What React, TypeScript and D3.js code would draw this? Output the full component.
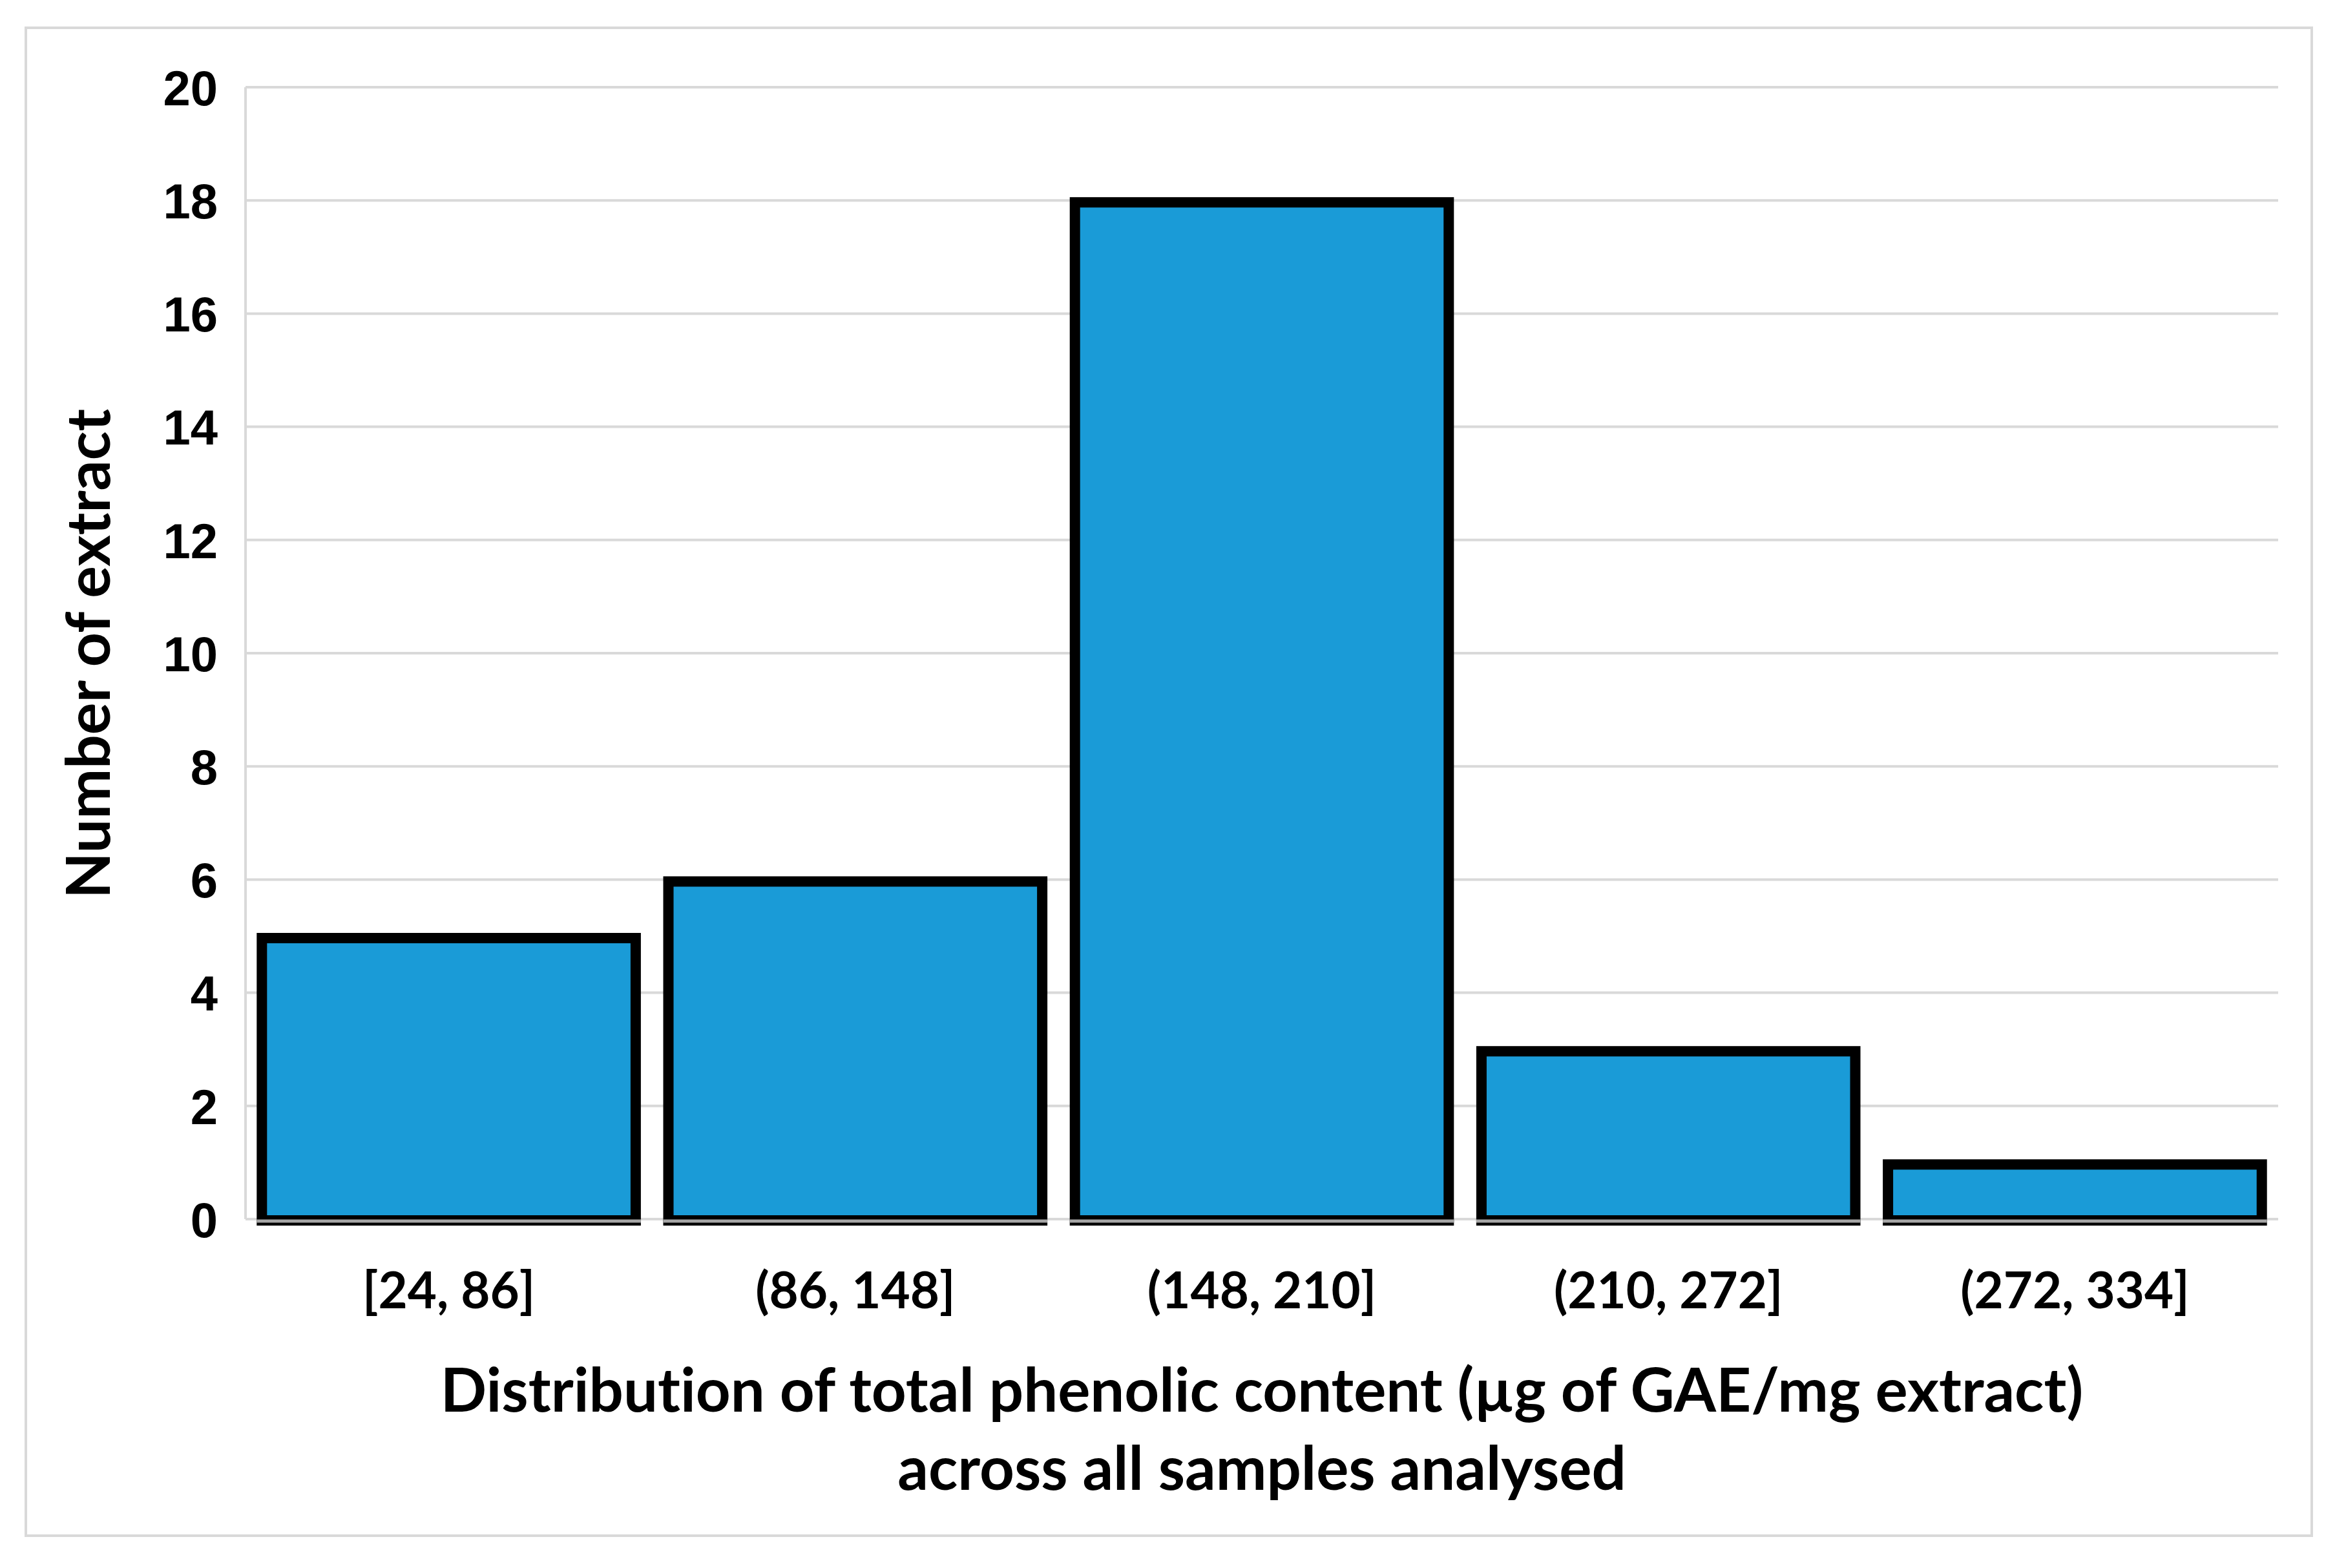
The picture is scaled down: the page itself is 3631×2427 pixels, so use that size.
import React, { useEffect, useRef } from 'react';
import * as d3 from 'd3';

const categories = ['[24, 86]', '(86, 148]', '(148, 210]', '(210, 272]', '(272, 334]'];
const counts = [5, 6, 18, 3, 1];
const yTicks = [0, 2, 4, 6, 8, 10, 12, 14, 16, 18, 20];
const yTitle = 'Number of extract';
const xTitle = ['Distribution of total phenolic content (µg of GAE/mg extract)', 'across all samples analysed'];

const App: React.FC = () => {
  const ref = useRef<SVGSVGElement>(null);

  useEffect(() => {
    const W = 3631;
    const H = 2427;
    const margin = { top: 135, right: 105, bottom: 540, left: 380 };
    const width = W - margin.left - margin.right;
    const height = H - margin.top - margin.bottom;

    const root = d3.select(ref.current).attr('width', W).attr('height', H);
    root.selectAll('*').remove();

    root.append('rect').attr('width', W).attr('height', H).attr('fill', '#fff');

    // outer chart border
    root.append('rect')
      .attr('x', 40).attr('y', 43)
      .attr('width', 3538).attr('height', 2334)
      .attr('fill', 'none')
      .attr('stroke', '#d9d9d9')
      .attr('stroke-width', 4);

    const svg = root.append('g')
      .attr('transform', `translate(${margin.left},${margin.top})`);

    const x = d3.scaleBand()
      .domain(categories)
      .range([0, width])
      .paddingInner(0.055)
      .paddingOuter(0.0275);

    const y = d3.scaleLinear()
      .domain([0, 20])
      .range([height, 0]);

    // gridlines
    svg.append('g')
      .selectAll('line')
      .data(yTicks)
      .join('line')
      .attr('x1', 0).attr('x2', width)
      .attr('y1', d => y(d)).attr('y2', d => y(d))
      .attr('stroke', '#d9d9d9')
      .attr('stroke-width', 4);

    // left axis line
    svg.append('line')
      .attr('x1', 0).attr('x2', 0)
      .attr('y1', 0).attr('y2', height)
      .attr('stroke', '#d9d9d9')
      .attr('stroke-width', 4);

    // y axis labels
    const yAxis = svg.append('g')
      .attr('transform', 'translate(-43,0)')
      .call(d3.axisLeft(y).tickValues(yTicks).tickSize(0).tickPadding(0));
    yAxis.select('.domain').remove();
    yAxis.selectAll('text')
      .attr('dy', '0.36em')
      .style('font-family', '"Liberation Sans", Arial, sans-serif')
      .style('font-weight', 700)
      .style('font-size', '76px')
      .style('fill', '#000');

    const sw = 16;
    // bars
    svg.append('g')
      .selectAll('rect')
      .data(counts)
      .join('rect')
      .attr('x', (d, i) => x(categories[i])! + sw / 2)
      .attr('y', d => y(d) + 3)
      .attr('width', x.bandwidth() - sw)
      .attr('height', d => y(0) - y(d) - 1)
      .attr('fill', '#1a9bd7')
      .attr('stroke', '#000')
      .attr('stroke-width', sw);

    // horizontal axis line over the bar bottoms
    svg.append('g')
      .selectAll('line')
      .data(categories)
      .join('line')
      .attr('x1', d => x(d)!)
      .attr('x2', d => x(d)! + x.bandwidth())
      .attr('y1', y(0) + 3).attr('y2', y(0) + 3)
      .attr('stroke', '#a6a6a6')
      .attr('stroke-width', 5);

    // x axis labels
    const xAxis = svg.append('g')
      .attr('transform', `translate(0,${height})`)
      .call(d3.axisBottom(x).tickSize(0).tickPadding(0));
    xAxis.select('.domain').remove();
    xAxis.selectAll('text')
      .attr('dy', null)
      .attr('y', 138)
      .style('font-family', 'Lato, sans-serif')
      .style('font-weight', 700)
      .style('font-size', '78px')
      .style('fill', '#000');

    // axis titles
    root.append('text')
      .attr('transform', `translate(170,1012) rotate(-90)`)
      .attr('text-anchor', 'middle')
      .style('font-family', 'Lato, sans-serif')
      .style('font-weight', 700)
      .style('font-size', '93px')
      .style('font-variant-ligatures', 'none')
      .text(yTitle);

    root.append('g')
      .selectAll('text')
      .data(xTitle)
      .join('text')
      .attr('x', margin.left + width / 2)
      .attr('y', (d, i) => 2185 + i * 121)
      .attr('text-anchor', 'middle')
      .style('font-family', 'Lato, sans-serif')
      .style('font-weight', 700)
      .style('font-size', '94px')
      .style('font-variant-ligatures', 'none')
      .text(d => d);
  }, []);

  return <svg ref={ref} style={{ position: 'absolute', left: 0, top: 0 }} />;
};

export default App;
